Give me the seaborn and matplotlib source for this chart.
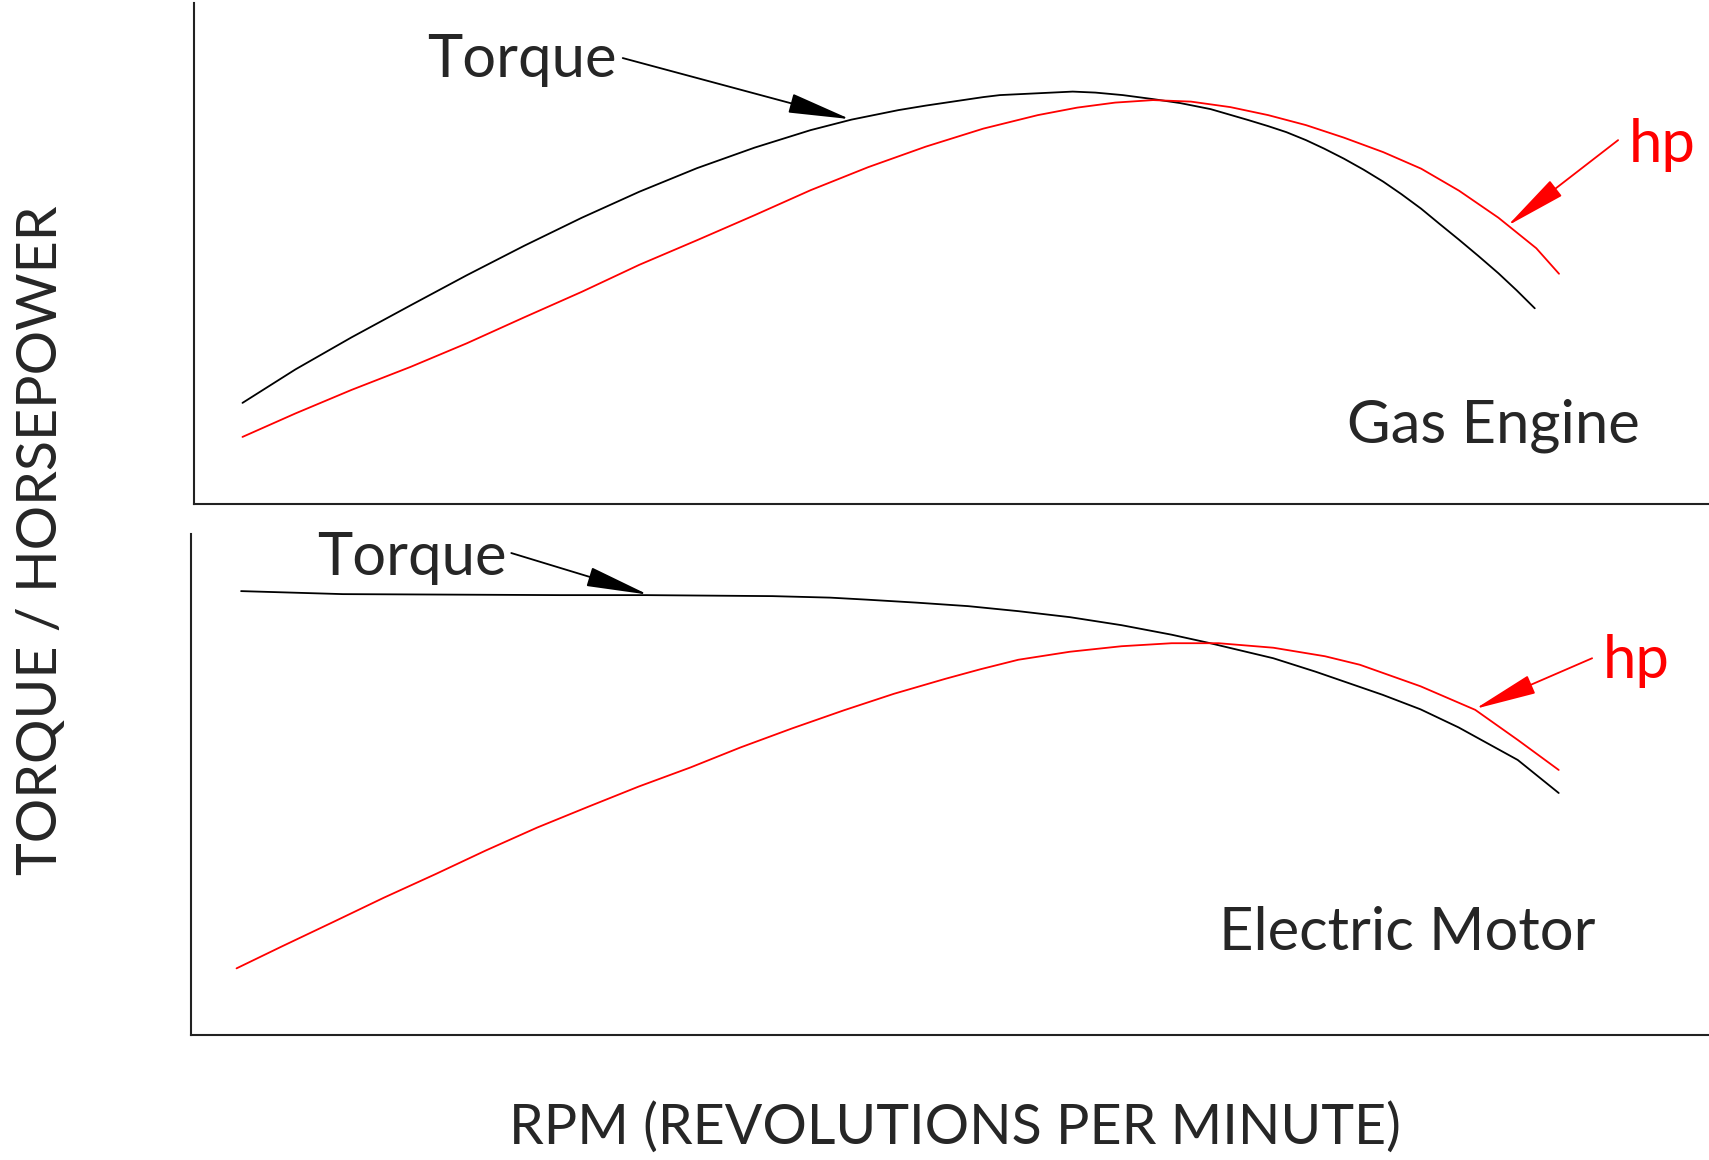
import pandas as pd
import seaborn as sns
import matplotlib
matplotlib.use('Agg')
import matplotlib.pyplot as plt

# Valores (x: % del rango de rpm, y: % de la altura del panel)
gas_rpm = [3.2, 6.7, 10.4, 14.3, 18.0, 21.8, 25.6, 29.4, 33.2, 37.0, 40.7, 43.4,
           46.5, 48.3, 52.1, 53.2, 58.0, 59.5, 61.3, 63.3, 65.1, 67.1, 69.6, 70.9,
           72.1, 73.4, 74.6, 75.9, 77.2, 78.5, 79.7, 81.0, 82.2, 83.5, 84.8, 86.1,
           87.3, 88.5]
gas_torque = [20.1, 26.8, 33.2, 39.6, 45.6, 51.5, 57.1, 62.3, 67.0, 71.1, 74.6, 76.7,
              78.6, 79.5, 81.2, 81.6, 82.3, 82.1, 81.6, 80.8, 80.0, 78.8, 76.6, 75.4,
              74.2, 72.6, 70.9, 68.9, 66.7, 64.3, 61.8, 58.9, 55.9, 52.7, 49.4, 46.0,
              42.6, 39.0]

gas_rpm_hp = [3.2, 6.7, 10.4, 14.3, 18.0, 21.8, 25.6, 29.4, 33.2, 37.0, 40.7, 44.5,
              48.3, 52.1, 55.7, 58.3, 60.8, 63.3, 65.8, 68.4, 70.9, 73.4, 75.9, 78.5,
              81.0, 83.5, 86.1, 88.6, 90.1]
gas_hp = [13.3, 18.0, 22.7, 27.3, 32.0, 37.2, 42.3, 47.7, 52.6, 57.6, 62.6, 67.2,
          71.3, 74.9, 77.6, 79.1, 80.1, 80.6, 80.3, 79.2, 77.6, 75.6, 73.1, 70.2,
          66.9, 62.5, 57.1, 51.0, 45.9]

elec_rpm = [3.3, 10.0, 24.3, 30.0, 38.3, 42.1, 44.5, 47.8, 51.2, 54.5, 57.9, 61.3,
            64.6, 67.0, 71.3, 74.1, 78.5, 81.0, 83.5, 87.4, 90.1]
elec_torque = [88.6, 88.0, 87.8, 87.8, 87.6, 87.3, 86.9, 86.3, 85.6, 84.6, 83.4, 81.8,
               79.9, 78.3, 75.2, 72.5, 67.9, 65.0, 61.4, 54.9, 48.3]

elec_rpm_hp = [3.0, 6.0, 9.4, 12.7, 16.1, 19.4, 22.8, 26.2, 29.5, 32.9, 36.2, 39.6,
               43.0, 46.3, 49.7, 52.0, 54.5, 57.9, 61.3, 64.6, 67.7, 71.3, 74.7, 77.0,
               81.0, 84.6, 87.4, 90.1]
elec_hp = [13.3, 17.7, 22.6, 27.4, 32.1, 36.8, 41.4, 45.6, 49.6, 53.4, 57.4, 61.2,
           64.8, 68.1, 71.1, 73.0, 74.9, 76.5, 77.6, 78.2, 78.2, 77.3, 75.6, 73.9,
           69.6, 64.9, 58.9, 52.9]

sns.set_style('white')
plt.rcParams['font.family'] = ['Lato', 'DejaVu Sans']

RED = '#ff0000'
FS = 43

fig = plt.figure(figsize=(17.09, 11.6), dpi=100)
ax_gas = fig.add_axes([194 / 1709, 1 - 503.5 / 1160, 1 - 194 / 1709, 500.5 / 1160])
ax_ele = fig.add_axes([191 / 1709, 1 - 1035 / 1160, 1 - 191 / 1709, 501 / 1160])


def preparar(ax):
    ax.set_xlim(0, 100)
    ax.set_ylim(0, 100)
    ax.set_xticks([])
    ax.set_yticks([])
    ax.set_xlabel('')
    ax.set_ylabel('')
    for s in ['top', 'right']:
        ax.spines[s].set_visible(False)
    for s in ['left', 'bottom']:
        ax.spines[s].set_color('#222222')
        ax.spines[s].set_linewidth(1.5)


def flecha(ax, tip, start, color):
    ax.annotate('', xy=tip, xytext=start,
                arrowprops=dict(arrowstyle='-|>,head_length=1.4,head_width=0.22',
                                color=color, lw=1.3, mutation_scale=28,
                                shrinkA=0, shrinkB=0))


# Motor de gasolina
sns.lineplot(x=gas_rpm, y=gas_torque, color='black', lw=1.3, sort=False,
             estimator=None, ax=ax_gas)
sns.lineplot(x=gas_rpm_hp, y=gas_hp, color=RED, lw=1.3, sort=False,
             estimator=None, ax=ax_gas)
preparar(ax_gas)
ax_gas.text(15.4, 85.2, 'Torque', fontsize=FS, va='baseline', ha='left')
flecha(ax_gas, (43.3, 76.8), (28.3, 89.0), 'black')
ax_gas.text(94.7, 68.2, 'hp', fontsize=FS, va='baseline', ha='left', color=RED)
flecha(ax_gas, (86.7, 55.5), (94.0, 72.6), RED)
ax_gas.text(76.1, 12.1, 'Gas Engine', fontsize=FS, va='baseline', ha='left')

# Motor electrico
sns.lineplot(x=elec_rpm, y=elec_torque, color='black', lw=1.3, sort=False,
             estimator=None, ax=ax_ele)
sns.lineplot(x=elec_rpm_hp, y=elec_hp, color=RED, lw=1.3, sort=False,
             estimator=None, ax=ax_ele)
preparar(ax_ele)
ax_ele.text(8.3, 91.8, 'Torque', fontsize=FS, va='baseline', ha='left')
flecha(ax_ele, (30.1, 87.9), (21.1, 96.2), 'black')
ax_ele.text(93.0, 71.3, 'hp', fontsize=FS, va='baseline', ha='left', color=RED)
flecha(ax_ele, (84.6, 65.1), (92.3, 75.2), RED)
ax_ele.text(67.7, 17.0, 'Electric Motor', fontsize=FS, va='baseline', ha='left')

fig.text(955 / 1709, 1 - 1128 / 1160, 'RPM (REVOLUTIONS PER MINUTE)',
         fontsize=40, ha='center', va='center')
fig.text(42 / 1709, 1 - 540 / 1160, 'TORQUE / HORSEPOWER', fontsize=40,
         ha='center', va='center', rotation=90)

fig.savefig('out.png', dpi=100)
